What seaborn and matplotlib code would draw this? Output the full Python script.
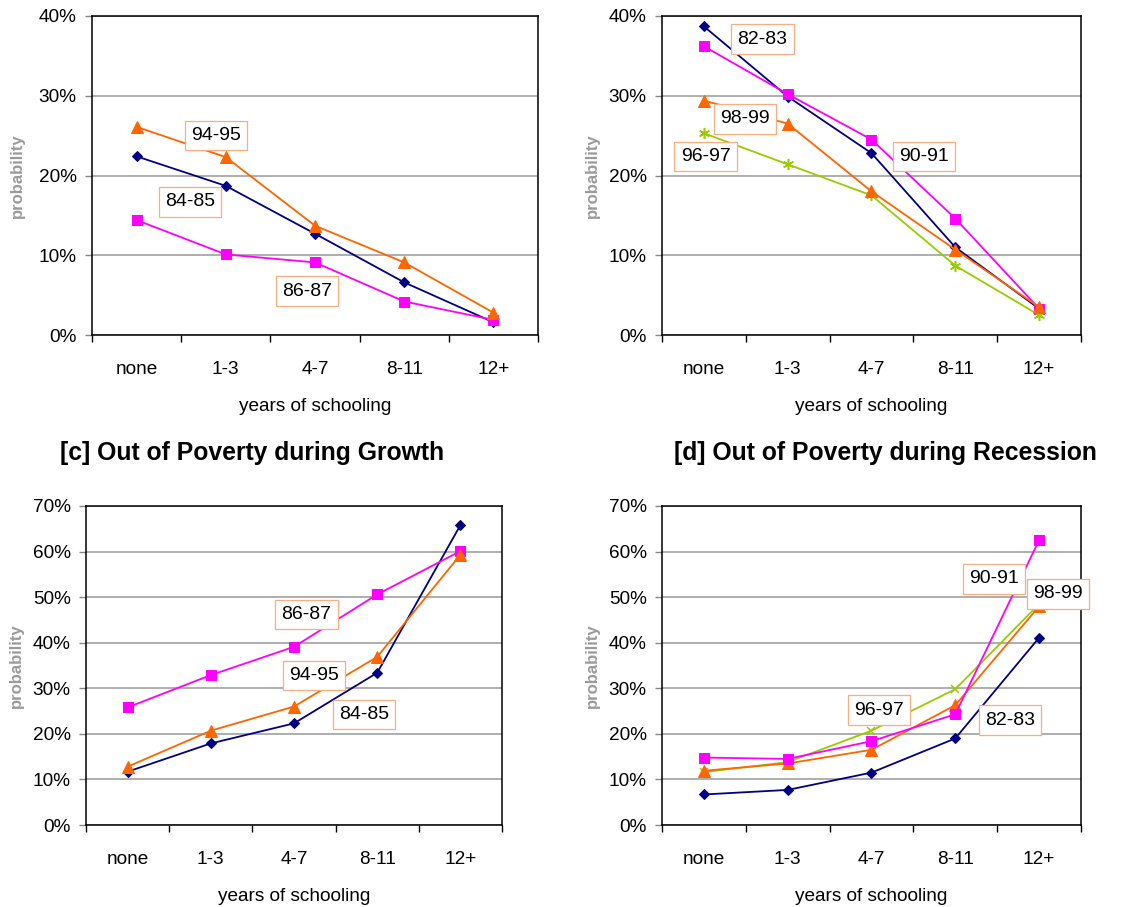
import numpy as np
import pandas as pd
import matplotlib
matplotlib.use("Agg")
import matplotlib.pyplot as plt
from matplotlib.ticker import PercentFormatter
import seaborn as sns

# ---------------- data ----------------
categories = ["none", "1-3", "4-7", "8-11", "12+"]

# [a] into poverty during growth (top-left)
a_84_85 = [22.4, 18.7, 12.7, 6.6, 1.6]
a_86_87 = [14.4, 10.1, 9.1, 4.2, 1.9]
a_94_95 = [26.1, 22.3, 13.7, 9.1, 2.8]

# [b] into poverty during recession (top-right)
b_82_83 = [38.7, 29.9, 22.8, 11.0, 3.3]
b_90_91 = [36.2, 30.2, 24.5, 14.6, 3.3]
b_98_99 = [29.4, 26.5, 18.0, 10.7, 3.5]
b_96_97 = [25.3, 21.4, 17.5, 8.7, 2.5]

# [c] out of poverty during growth
c_84_85 = [11.7, 17.9, 22.3, 33.4, 65.8]
c_86_87 = [25.8, 32.9, 39.1, 50.6, 60.1]
c_94_95 = [12.8, 20.7, 26.0, 36.9, 59.3]

# [d] out of poverty during recession
d_82_83 = [6.7, 7.7, 11.5, 19.0, 41.1]
d_90_91 = [14.8, 14.5, 18.4, 24.3, 62.5]
d_98_99 = [11.9, 13.5, 16.5, 26.3, 48.0]
d_96_97 = [11.6, 13.8, 20.7, 29.8, 48.5]

title_c = "[c] Out of Poverty during Growth"
title_d = "[d] Out of Poverty during Recession"
xlabel = "years of schooling"
ylabel = "probability"

# ---------------- style ----------------
sns.set_style("white")
plt.rcParams["font.family"] = ["Liberation Sans", "DejaVu Sans"]
plt.rcParams["text.color"] = "black"
plt.rcParams["axes.labelcolor"] = "black"
plt.rcParams["xtick.labelcolor"] = "black"
plt.rcParams["ytick.labelcolor"] = "black"

NAVY, MAG, ORA, GRN = "#000080", "#FF00FF", "#FF6600", "#99CC00"
STY = {
    "navy": dict(color=NAVY, marker="D", markersize=5.5),
    "mag": dict(color=MAG, marker="s", markersize=7),
    "ora": dict(color=ORA, marker="^", markersize=8),
    "grn_ast": dict(color=GRN, marker=(6, 2, 0), markersize=8, markeredgewidth=1.1),
    "grn_x": dict(color=GRN, marker="x", markersize=6, markeredgewidth=1.1),
}

W, H = 1136, 907
fig = plt.figure(figsize=(W / 100, H / 100), dpi=100)

FS = 13.7


def px_axes(l, t, r, b):
    return fig.add_axes([l / W, 1 - b / H, (r - l) / W, (b - t) / H])


def panel(ax, series, ymax, labels):
    for name, vals, sty in series:
        st = dict(STY[sty])
        sns.lineplot(x=categories, y=vals, ax=ax, sort=False, legend=False,
                     linewidth=1.3, markeredgecolor=st["color"], **st)
    ax.set_xlim(-0.5, 4.5)
    ax.set_ylim(0, ymax)
    ax.set_yticks(np.arange(0, ymax + 1, 10))
    ax.yaxis.set_major_formatter(PercentFormatter(decimals=0))
    ax.set_xticks(range(len(categories)))
    ax.set_xticklabels(categories)
    ax.set_xticks(np.arange(-0.5, 5, 1), minor=True)
    ax.tick_params(axis="x", which="major", length=0, pad=19, labelsize=FS,
                   labelcolor="black")
    ax.tick_params(axis="x", which="minor", length=5, width=1, color="black",
                   direction="out", bottom=True)
    ax.tick_params(axis="y", which="major", length=5, width=1, color="#888888",
                   direction="out", left=True, pad=6, labelsize=FS,
                   labelcolor="black")
    ax.yaxis.grid(True, color="#A8A8A8", linewidth=1.3)
    ax.set_axisbelow(True)
    for sp in ax.spines.values():
        sp.set_color("black")
        sp.set_linewidth(1.1)
    ax.set_xlabel(xlabel, fontsize=FS, color="black")
    ax.xaxis.label.set_va("center")
    ax.xaxis.set_label_coords(0.5, -0.225)
    ax.set_ylabel(ylabel, fontsize=12, color="#9A9A9A", fontweight="bold")
    ax.yaxis.label.set_va("center")
    ax.yaxis.set_label_coords(-0.167, 0.5)
    for txt, x, y in labels:
        ax.text(x, y, txt, ha="center", va="center", fontsize=14, zorder=10,
                color="black",
                bbox=dict(boxstyle="square,pad=0.32", fc="white",
                          ec="#F6AE82", lw=0.9))


ax_a = px_axes(92, 16, 538, 335)
panel(ax_a,
      [("84-85", a_84_85, "navy"), ("86-87", a_86_87, "mag"), ("94-95", a_94_95, "ora")],
      40,
      [("94-95", 0.89, 25.0), ("84-85", 0.60, 16.7), ("86-87", 1.91, 5.5)])

ax_b = px_axes(662, 16, 1081, 335)
panel(ax_b,
      [("82-83", b_82_83, "navy"), ("90-91", b_90_91, "mag"),
       ("96-97", b_96_97, "grn_ast"), ("98-99", b_98_99, "ora")],
      40,
      [("82-83", 0.70, 37.1), ("98-99", 0.49, 27.1), ("96-97", 0.02, 22.4),
       ("90-91", 2.63, 22.4)])

ax_c = px_axes(86, 506, 502, 825)
panel(ax_c,
      [("84-85", c_84_85, "navy"), ("86-87", c_86_87, "mag"), ("94-95", c_94_95, "ora")],
      70,
      [("86-87", 2.15, 46.2), ("94-95", 2.24, 32.8), ("84-85", 2.84, 24.3)])

ax_d = px_axes(662, 506, 1081, 825)
panel(ax_d,
      [("82-83", d_82_83, "navy"), ("96-97", d_96_97, "grn_x"),
       ("98-99", d_98_99, "ora"), ("90-91", d_90_91, "mag")],
      70,
      [("96-97", 2.09, 25.2), ("82-83", 3.65, 23.0), ("90-91", 3.46, 54.0),
       ("98-99", 4.22, 50.7)])

fig.text(252 / W, 1 - 453 / H, title_c, ha="center", va="center",
         fontsize=17.8, fontweight="bold", color="black")
fig.text(885 / W, 1 - 453 / H, title_d, ha="center", va="center",
         fontsize=17.8, fontweight="bold", color="black")

fig.savefig("out.png", dpi=100)
